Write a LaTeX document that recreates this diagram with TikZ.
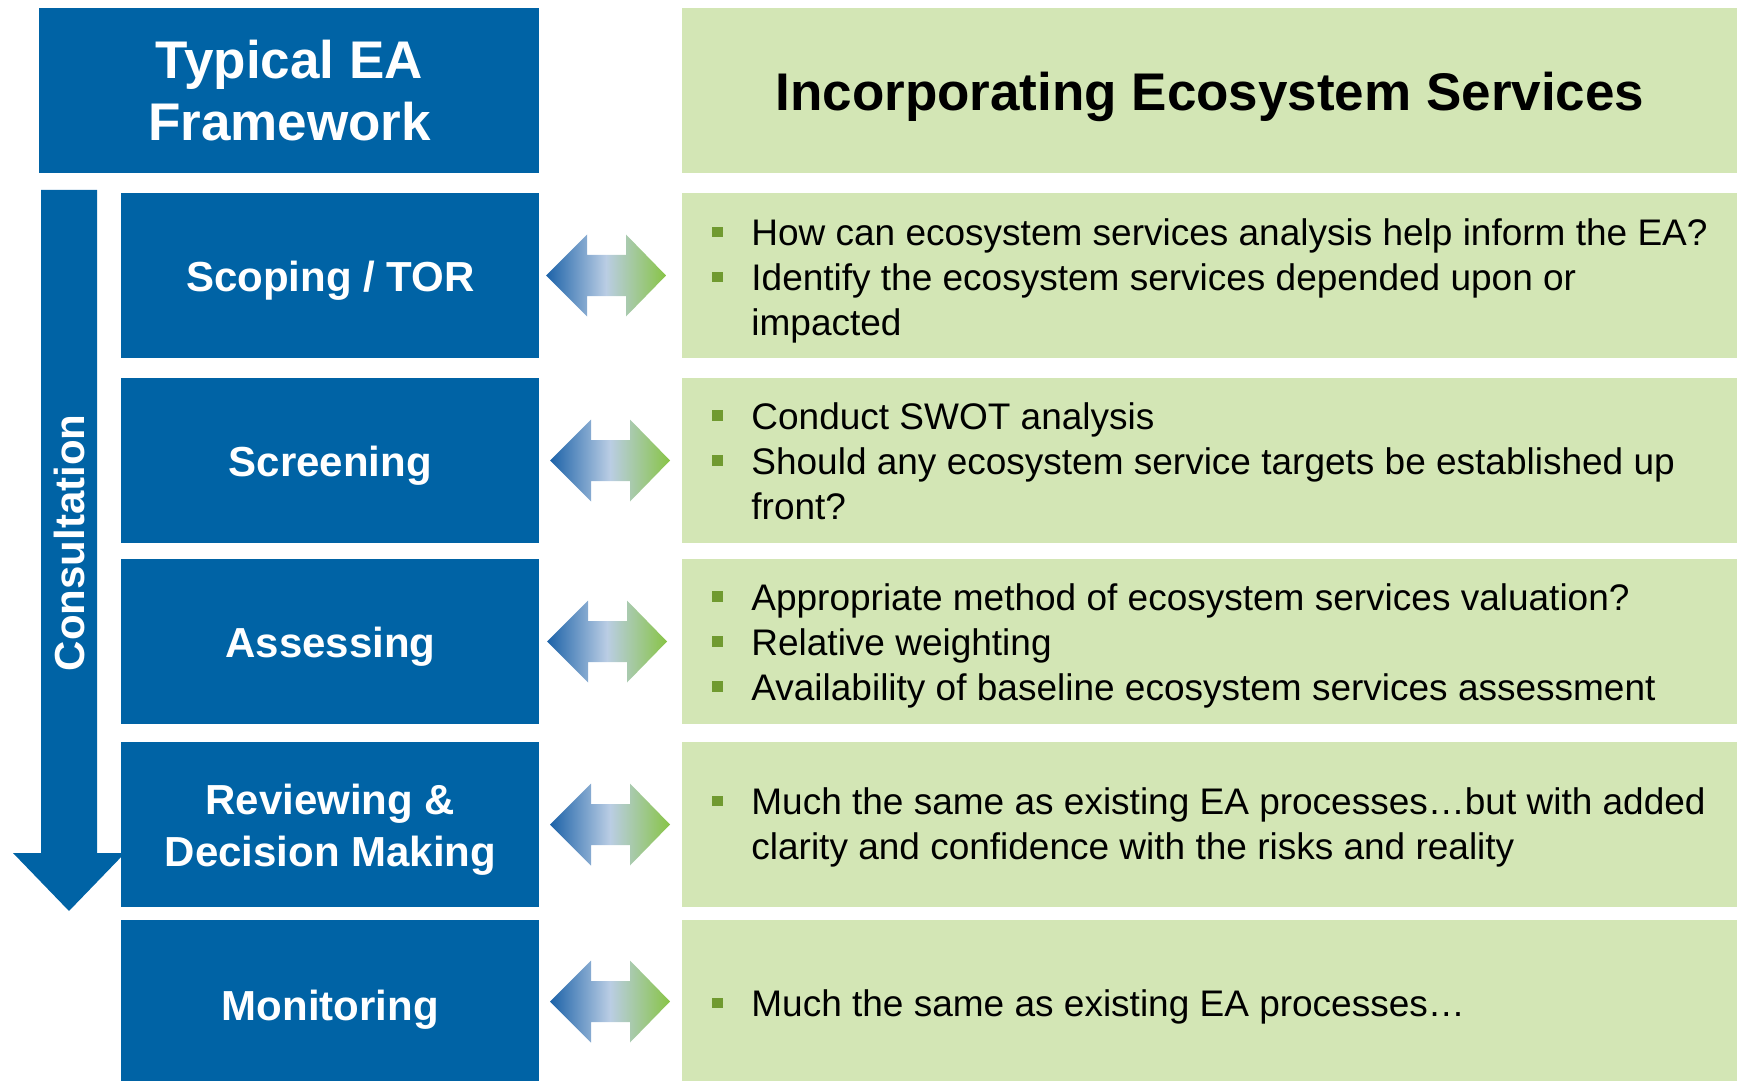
\documentclass[tikz,border=0pt]{standalone}
\usepackage{fontspec}
\setmainfont{Liberation Sans}
\definecolor{eablue}{RGB}{0,99,165}
\definecolor{esgreen}{RGB}{211,230,181}
\definecolor{bulletgreen}{RGB}{112,154,48}
\definecolor{arrblue}{RGB}{28,98,168}
\definecolor{arrmid}{RGB}{186,205,228}
\definecolor{arrgreen}{RGB}{136,196,70}
% green square bullet hung to the left of a line
\newcommand{\bitem}{\llap{\textcolor{bulletgreen}{\rule[4.2pt]{5.6pt}{5.2pt}}\hspace{14pt}}}
\begin{document}
\begin{tikzpicture}[x=0.5pt,y=-0.5pt,
  headblue/.style={fill=eablue, inner sep=0, anchor=north west, minimum width=250pt, minimum height=82.5pt,
    text=white, align=center, font=\bfseries\fontsize{26.5}{31}\selectfont},
  headgreen/.style={fill=esgreen, inner sep=0, anchor=north west, minimum width=527.5pt, minimum height=82.5pt,
    text=black, align=center, text depth=0pt, font=\bfseries\fontsize{26.5}{31}\selectfont},
  stagebox/.style={fill=eablue, inner sep=0, anchor=north west, minimum width=209pt, minimum height=82.5pt,
    text=white, align=center, text depth=0pt, font=\bfseries\fontsize{21}{26}\selectfont},
  greenbox/.style={fill=esgreen, inner sep=0, anchor=north west, minimum width=527.5pt, minimum height=82.5pt},
  bodytext/.style={anchor=west, inner sep=0, align=left, text=black, font=\fontsize{18.5}{22.5}\selectfont},
  twoway/.style={left color=arrblue, right color=arrgreen, middle color=arrmid}
]
\useasboundingbox (0,0) rectangle (1737,1081);

% consultation arrow running down beside the stages
\fill[eablue] (41,190) -- (97,190) -- (97,853) -- (125,853) -- (69,911) -- (13,853) -- (41,853) -- cycle;
\node[rotate=90, text=white, font=\bfseries\fontsize{21}{26}\selectfont] (consult) at (69.5,543) {Consultation};

% column headers
\node[headblue] (hleft) at (39,8) {Typical EA\\Framework};
\node[headgreen] (hright) at (682,8) {Incorporating Ecosystem Services};

% stages of the framework
\node[stagebox] (s1) at (121,193) {Scoping / TOR};
\node[stagebox] (s2) at (121,378) {Screening};
\node[stagebox] (s3) at (121,559) {Assessing};
\node[stagebox] (s4) at (121,742) {Reviewing \&\\Decision Making};
\node[stagebox, minimum height=85pt] (s5) at (121,920) {Monitoring};

% matching ecosystem service considerations
\node[greenbox] (g1) at (682,193) {};
\node[greenbox] (g2) at (682,378) {};
\node[greenbox] (g3) at (682,559) {};
\node[greenbox] (g4) at (682,742) {};
\node[greenbox, minimum height=85pt] (g5) at (682,920) {};

\node[bodytext] (t1) at (751,281) {\bitem How can ecosystem services analysis help inform the EA?\\
  \bitem Identify the ecosystem services depended upon or\\ impacted};
\node[bodytext] (t2) at (751,461) {\bitem Conduct SWOT analysis\\
  \bitem Should any ecosystem service targets be established up\\ front?};
\node[bodytext] (t3) at (751,645.5) {\bitem Appropriate method of ecosystem services valuation?\\
  \bitem Relative weighting\\
  \bitem Availability of baseline ecosystem services assessment};
\node[bodytext] (t4) at (751,827.5) {\bitem Much the same as existing EA processes\dots but with added\\ clarity and confidence with the risks and reality};
\node[bodytext] (t5) at (751,1007) {\bitem Much the same as existing EA processes\dots};

% two-way arrows linking each stage to its considerations
\foreach \yc/\dx in {275.5/0, 460.5/4, 641.5/1, 824.5/4, 1001.5/4} {
  \shade[twoway]
    (546+\dx,\yc) -- (587+\dx,\yc-41) -- (587+\dx,\yc-20.5) -- (626+\dx,\yc-20.5) -- (626+\dx,\yc-41)
    -- (666+\dx,\yc) -- (626+\dx,\yc+41) -- (626+\dx,\yc+20.5) -- (587+\dx,\yc+20.5) -- (587+\dx,\yc+41) -- cycle;
}
\end{tikzpicture}
\end{document}
